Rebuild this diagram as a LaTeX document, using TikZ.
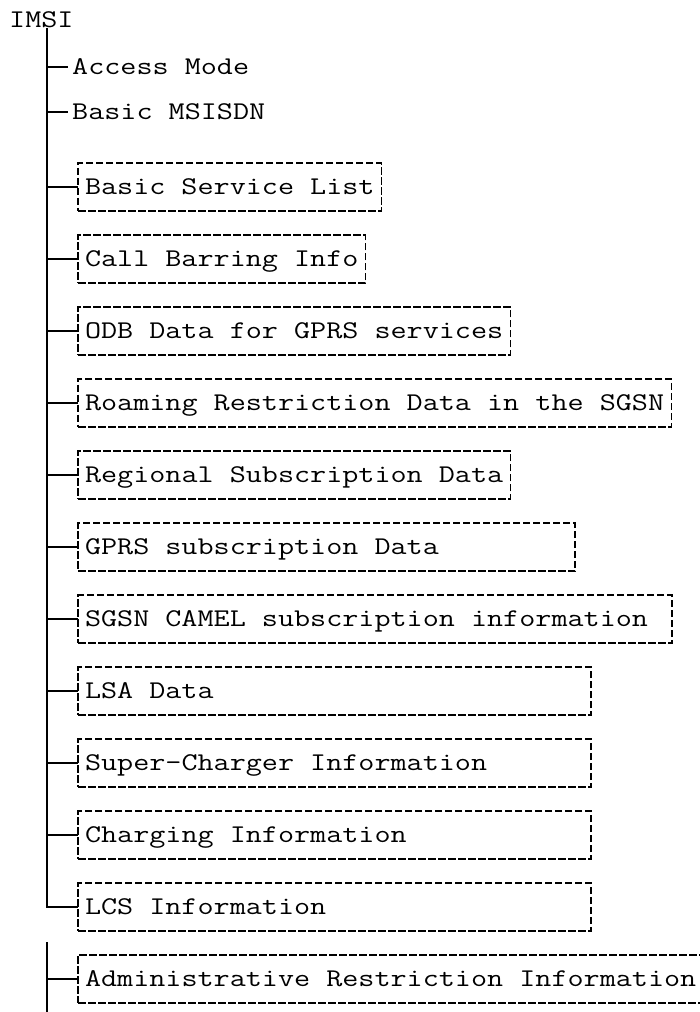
\documentclass[tikz,border=0pt]{standalone}
\usepackage{fontspec}
\setmonofont{Latin Modern Mono}[FakeStretch=1.225]
\usetikzlibrary{positioning}
\newcommand\padded[2]{\makebox[#1][l]{#2}}
\tikzset{
  tree/.style={line width=1.3pt},
  leaf/.style={font=\ttfamily\fontsize{25.5}{30}\selectfont, inner xsep=4pt,
    inner ysep=0pt, text height=15.5pt, text depth=0pt, anchor=west},
  databox/.style={leaf, draw, line width=1.3pt, dash pattern=on 7.5pt off 2.5pt,
    inner xsep=7pt, minimum height=48pt, outer sep=0pt},
}

\begin{document}
\begin{tikzpicture}[x=1pt,y=-1pt,node distance=24pt]
  \useasboundingbox (0,0) rectangle (700,1012);

  % Nodes
  \node[leaf, inner xsep=0pt] (imsi) at (9,20) {IMSI};
  \node[leaf] (access) at (68,67) {Access Mode};
  \node[leaf] (msisdn) at (68,112) {Basic MSISDN};
  \node[databox] (bsl) at (78,187) {Basic Service List};
  \node[databox, below=of bsl.south west, anchor=north west] (cbi) {Call Barring Info};
  \node[databox, below=of cbi.south west, anchor=north west] (odb) {ODB Data for GPRS services};
  \node[databox, below=of odb.south west, anchor=north west] (roam) {Roaming Restriction Data in the SGSN};
  \node[databox, below=of roam.south west, anchor=north west] (regsub) {Regional Subscription Data};
  \node[databox, below=of regsub.south west, anchor=north west] (gprs) {\padded{483pt}{GPRS subscription Data}};
  \node[databox, below=of gprs.south west, anchor=north west] (camel) {\padded{580pt}{SGSN CAMEL subscription information}};
  \node[databox, below=of camel.south west, anchor=north west] (lsa) {\padded{499pt}{LSA Data}};
  \node[databox, below=of lsa.south west, anchor=north west] (scharger) {\padded{499pt}{Super-Charger Information}};
  \node[databox, below=of scharger.south west, anchor=north west] (charging) {\padded{499pt}{Charging Information}};
  \node[databox, below=of charging.south west, anchor=north west] (lcs) {\padded{499pt}{LCS Information}};
  \node[databox, below=of lcs.south west, anchor=north west] (admin) {Administrative Restriction Information};

  \coordinate (top) at (47,28);
  \coordinate (gap) at (47,942);
  \coordinate (foot) at (47,1012);

  % Tree lines
  \draw[tree] (top) |- (lcs.west);
  \foreach \n in {access,msisdn,bsl,cbi,odb,roam,regsub,gprs,camel,lsa,scharger,charging}
    \draw[tree] (top |- \n.west) -- (\n.west);
  \draw[tree] (gap) -- (foot);
  \draw[tree] (gap |- admin.west) -- (admin.west);

\end{tikzpicture}
\end{document}
